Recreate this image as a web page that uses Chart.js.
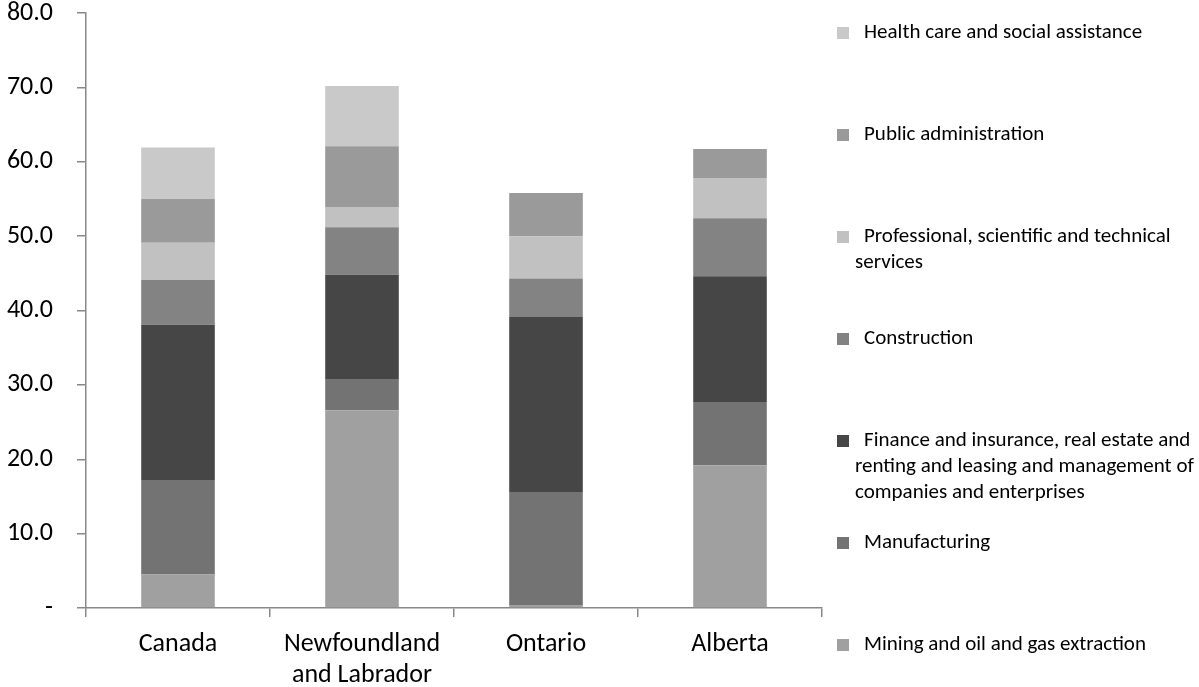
<!DOCTYPE html>
<html>
<head>
<meta charset="utf-8">
<script src="https://cdn.jsdelivr.net/npm/chart.js@4.4.1/dist/chart.umd.min.js"></script>
<style>
html,body{margin:0;padding:0;background:#fff;}
#wrap{position:relative;width:1199px;height:687px;}
</style>
</head>
<body>
<div id="wrap"><canvas id="c" width="1199" height="687"></canvas></div>
<script>
const categories = [["Canada"], ["Newfoundland", "and Labrador"], ["Ontario"], ["Alberta"]];
const seriesNames = [
  "Mining and oil and gas extraction",
  "Manufacturing",
  "Finance and insurance, real estate and renting and leasing and management of companies and enterprises",
  "Construction",
  "Professional, scientific and technical services",
  "Public administration",
  "Health care and social assistance"
];
const legendLines = [
  ["Mining and oil and gas extraction"],
  ["Manufacturing"],
  ["Finance and insurance, real estate and", "renting and leasing and management of", "companies and enterprises"],
  ["Construction"],
  ["Professional, scientific and technical", "services"],
  ["Public administration"],
  ["Health care and social assistance"]
];
const mining        = [4.5, 26.6, 0.4, 19.2];
const manufacturing = [12.7, 4.1, 15.2, 8.5];
const finance       = [20.9, 14.1, 23.6, 16.9];
const construction  = [6.0, 6.4, 5.1, 7.8];
const professional  = [5.0, 2.7, 5.7, 5.4];
const publicAdmin   = [5.9, 8.2, 5.8, 3.9];
const health        = [6.9, 8.1, 0, 0];
const seriesValues = [mining, manufacturing, finance, construction, professional, publicAdmin, health];
const colors = ["#a0a0a0", "#737373", "#464646", "#838383", "#c1c1c1", "#9a9a9a", "#c9c9c9"];
const yTicks = [0, 10, 20, 30, 40, 50, 60, 70, 80];

const FONT = "Carlito, Lato, 'Open Sans', sans-serif";

const legendPlugin = {
  id: 'sideLegend',
  afterDraw(chart) {
    const ctx = chart.ctx;
    const n = legendLines.length;
    const topY = 33, bottomY = 645;
    const step = (bottomY - topY) / (n - 1);
    ctx.save();
    ctx.font = "21px " + FONT;
    ctx.textBaseline = 'middle';
    ctx.textAlign = 'left';
    for (let i = 0; i < n; i++) {
      const idx = n - 1 - i;
      const y = topY + step * i;
      ctx.fillStyle = colors[idx];
      ctx.fillRect(837, y - 6, 12, 12);
      ctx.fillStyle = '#000';
      const lines = legendLines[idx];
      lines.forEach((t, k) => {
        ctx.fillText(t, k === 0 ? 864 : 855, y + k * 26);
      });
    }
    ctx.restore();
  }
};

new Chart(document.getElementById('c'), {
  type: 'bar',
  data: {
    labels: categories,
    datasets: seriesNames.map((name, i) => ({
      label: name,
      data: seriesValues[i],
      backgroundColor: colors[i],
      borderWidth: 0,
      categoryPercentage: 1.0,
      barPercentage: 0.4
    }))
  },
  options: {
    responsive: false,
    animation: false,
    devicePixelRatio: 1,
    layout: { padding: { top: 13, right: 377, bottom: 0, left: 0 } },
    plugins: { legend: { display: false }, tooltip: { enabled: false } },
    scales: {
      x: {
        stacked: true,
        grid: { display: true, drawOnChartArea: false, tickLength: 9, color: '#888', lineWidth: 1.5, offset: true },
        border: { color: '#888', width: 1.5 },
        ticks: { color: '#000', font: { family: FONT, size: 26 }, padding: 12, maxRotation: 0 },
        afterFit(s) { s.height = 79; s.paddingLeft = 0; s.paddingRight = 0; }
      },
      y: {
        stacked: true,
        min: 0, max: 80,
        afterBuildTicks(s) { s.ticks = yTicks.map(v => ({ value: v })); },
        grid: { display: true, drawOnChartArea: false, tickLength: 9, color: '#888', lineWidth: 1.5 },
        border: { color: '#888', width: 1.5 },
        ticks: {
          color: '#000', font: { family: FONT, size: 26 }, padding: 24,
          callback: v => v === 0 ? '-' : Number(v).toFixed(1)
        },
        afterFit(s) { s.width = 86; s.paddingTop = 0; s.paddingBottom = 0; }
      }
    }
  },
  plugins: [legendPlugin]
});
</script>
</body>
</html>
